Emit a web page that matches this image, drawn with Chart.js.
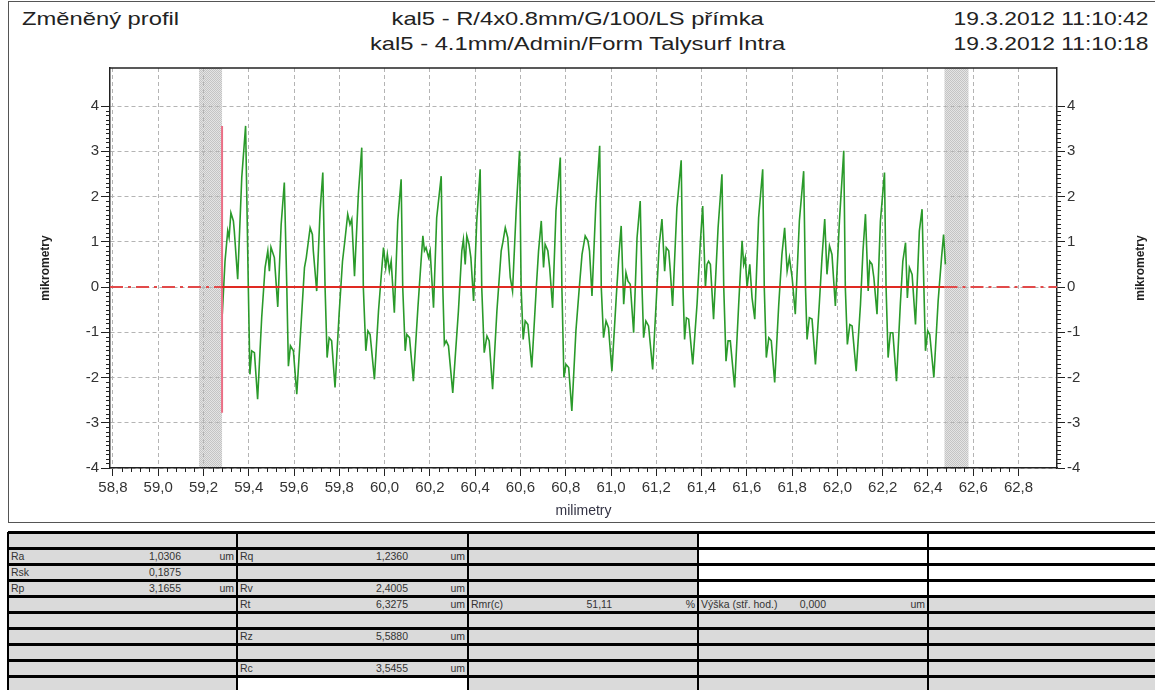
<!DOCTYPE html>
<html lang="cs">
<head>
<meta charset="UTF-8">
<title>Změněný profil</title>
<script src="https://cdn.jsdelivr.net/npm/chart.js@4.4.0/dist/chart.umd.min.js"></script>
<style>
  body { margin: 0; width: 1155px; height: 690px; overflow: hidden; background: #fff;
         font-family: "Liberation Sans", Arial, sans-serif; position: relative; }
  #frame { position: absolute; left: 8px; top: 1px; width: 1160px; height: 522px;
           border: 1px solid #555; box-sizing: border-box; }
  .hd { position: absolute; font-size: 19px; line-height: 22px; color: #222; white-space: nowrap; }
  #chart { position: absolute; left: 0; top: 0; }
  .cell { position: absolute; }
  .ln { position: absolute; background: #000; }
  .tx { position: absolute; font-size: 10.5px; color: #333; white-space: nowrap; }
</style>
</head>
<body>
<div id="frame"></div>
<div class="hd" style="left:22px;top:8px;transform:scaleX(1.25);transform-origin:left center">Změněný profil</div>
<div class="hd" style="left:0;width:1155px;text-align:center;top:8px;transform:scaleX(1.25);transform-origin:577px center">kal5 - R/4x0.8mm/G/100/LS přímka</div>
<div class="hd" style="left:0;width:1155px;text-align:center;top:33px;transform:scaleX(1.25);transform-origin:577px center">kal5 - 4.1mm/Admin/Form Talysurf Intra</div>
<div class="hd" style="right:7px;top:8px;transform:scaleX(1.2);transform-origin:right center">19.3.2012 11:10:42</div>
<div class="hd" style="right:7px;top:33px;transform:scaleX(1.2);transform-origin:right center">19.3.2012 11:10:18</div>
<canvas id="chart" width="1155" height="525"></canvas>
<div id="table"></div>
<script>
// profile (mm, µm)
const profileX = [
  59.283, 59.295, 59.307, 59.313, 59.321, 59.332, 59.336, 59.351, 59.369, 59.386,
  59.398, 59.405, 59.413, 59.425, 59.439, 59.457, 59.472, 59.484, 59.491, 59.498,
  59.513, 59.528, 59.543, 59.557, 59.568, 59.575, 59.584, 59.597, 59.612, 59.631,
  59.646, 59.654, 59.671, 59.681, 59.685, 59.700, 59.715, 59.727, 59.737, 59.746,
  59.755, 59.766, 59.781, 59.799, 59.814, 59.825, 59.837, 59.847, 59.855, 59.867,
  59.884, 59.899, 59.906, 59.917, 59.926, 59.936, 59.955, 59.973, 59.988, 59.995,
  60.005, 60.012, 60.021, 60.029, 60.043, 60.058, 60.073, 60.080, 60.091, 60.098,
  60.110, 60.127, 60.147, 60.161, 60.169, 60.176, 60.183, 60.194, 60.201, 60.216,
  60.230, 60.250, 60.257, 60.264, 60.272, 60.282, 60.301,
  60.326, 60.341, 60.348, 60.356, 60.363, 60.373, 60.381, 60.393, 60.407, 60.422,
  60.429, 60.440, 60.452, 60.462, 60.477, 60.496, 60.515, 60.522, 60.533, 60.544,
  60.555, 60.565, 60.581, 60.596, 60.603, 60.612, 60.621, 60.633, 60.650, 60.670,
  60.680, 60.692, 60.702, 60.709, 60.721, 60.729, 60.742, 60.757, 60.776, 60.783,
  60.792, 60.801, 60.813, 60.827, 60.845, 60.860, 60.872, 60.886, 60.898, 60.905,
  60.916, 60.933, 60.950, 60.957, 60.967, 60.978, 60.989, 61.004, 61.023, 61.034,
  61.045, 61.056, 61.066, 61.075, 61.085, 61.100, 61.115, 61.129, 61.137, 61.144,
  61.154, 61.166, 61.184, 61.203, 61.213, 61.225, 61.237, 61.244, 61.255, 61.262,
  61.272, 61.291, 61.310, 61.318, 61.325, 61.333, 61.343, 61.361, 61.380, 61.394,
  61.405, 61.417, 61.424, 61.431, 61.439, 61.453, 61.473, 61.490, 61.498, 61.508,
  61.517, 61.527, 61.546, 61.564, 61.579, 61.586, 61.593, 61.601, 61.613, 61.623,
  61.635, 61.652, 61.670, 61.677, 61.686, 61.697, 61.708, 61.723, 61.741, 61.755,
  61.767, 61.778, 61.788, 61.800, 61.814, 61.832, 61.851, 61.859, 61.866, 61.876,
  61.888, 61.903, 61.920, 61.932, 61.944, 61.954, 61.965, 61.976, 61.991, 62.009,
  62.028, 62.035, 62.044, 62.055, 62.065, 62.083, 62.102, 62.113, 62.124, 62.136,
  62.143, 62.153, 62.161, 62.175, 62.190, 62.208, 62.215, 62.224, 62.234, 62.245,
  62.261, 62.278, 62.289, 62.301, 62.309, 62.318, 62.330, 62.345, 62.362, 62.374,
  62.382, 62.389, 62.399, 62.408, 62.426, 62.445, 62.460, 62.469, 62.477
];
const profileY = [
  -0.60, 0.57, 1.24, 1.09, 1.64, 1.46, 1.24, 0.17, 2.42, 3.56,
  -0.01, -1.93, -1.41, -1.45, -2.48, -0.68, 0.43, 0.80, 0.35, 0.88,
  0.65, -0.44, 1.38, 2.31, -0.01, -1.75, -1.30, -1.41, -2.37, -0.83,
  0.43, 0.65, 1.31, 1.16, 0.80, -0.09, 1.68, 2.53, -0.01, -1.56,
  -1.12, -1.19, -2.22, -0.60, 0.57, 1.05, 1.61, 1.38, 1.50, 0.24,
  2.05, 3.08, -0.01, -1.41, -0.97, -1.05, -2.04, -0.53, 0.43, 0.87,
  0.43, 0.72, 0.35, 0.57, -0.57, 1.46, 2.38, -0.01, -1.41, -1.05,
  -1.12, -2.08, -0.46, 0.57, 1.13, 0.80, 0.87, 0.65, 0.80, -0.46,
  1.53, 2.45, -0.01, -1.27, -1.19, -1.30, -2.34,
  -0.53, 0.80, 1.05, 0.50, 1.13, 0.94, 0.65, -0.31, 1.46, 2.60,
  -0.01, -1.45, -1.08, -1.19, -2.26, -0.53, 0.80, 0.98, 1.31, 1.09,
  0.21, -0.09, 1.68, 3.01, -0.01, -1.16, -0.75, -0.83, -1.78, -0.01,
  0.80, 1.46, 0.43, 0.94, 0.80, 0.43, -0.46, 1.68, 2.86, -0.01,
  -2.00, -1.71, -1.78, -2.74, -0.97, -0.01, 0.72, 1.13, 1.02, 0.80,
  -0.20, 1.83, 3.12, -0.01, -1.12, -0.75, -0.90, -1.86, -0.24, 0.65,
  1.35, -0.38, 0.32, 0.13, 0.06, -1.01, 1.09, 1.90, -0.01, -1.12,
  -0.75, -0.86, -1.82, -0.01, 0.94, 1.50, 0.35, 0.87, 0.80, 0.35,
  -0.42, 1.75, 2.80, -0.01, -1.16, -0.68, -0.71, -1.71, -0.38, 0.94,
  1.79, -0.01, 0.50, 0.57, 0.50, -0.71, 1.31, 2.49, -0.01, -1.64,
  -1.19, -1.19, -2.22, -0.38, 1.02, 0.50, 0.65, -0.01, 0.50, -0.24,
  -0.71, 1.53, 2.60, -0.01, -1.56, -1.12, -1.19, -2.11, -0.38, 0.72,
  1.31, 0.35, 0.65, 0.21, -0.60, 1.46, 2.56, -0.01, -1.16, -0.68,
  -0.71, -1.71, -0.38, 0.65, 1.50, 0.28, 0.91, 0.72, -0.42, 1.46,
  3.01, -0.01, -1.27, -0.83, -0.86, -1.86, -0.38, 0.80, 1.61, -0.09,
  0.57, 0.50, 0.21, -0.60, 1.46, 2.53, -0.01, -1.56, -1.01, -1.01,
  -2.08, -0.38, 0.57, 0.98, -0.24, 0.43, 0.28, -0.83, 1.24, 1.72,
  -0.01, -1.41, -0.97, -1.05, -2.00, -0.31, 0.65, 1.16, 0.50
];

const xRange = [58.787, 62.97];
const yRange = [-4, 4.84];
const xTicks = [58.8, 59.0, 59.2, 59.4, 59.6, 59.8, 60.0, 60.2, 60.4, 60.6, 60.8,
                61.0, 61.2, 61.4, 61.6, 61.8, 62.0, 62.2, 62.4, 62.6, 62.8];
const yTicks = [-4, -3, -2, -1, 0, 1, 2, 3, 4];
const evalStart = 59.282, evalEnd = 62.473;       // evaluation length
const cutoffBands = [[59.180, 59.282], [62.473, 62.579]];
const rtMarker = [-2.78, 3.56];                   // Rt span drawn at evalStart

// table of parameters
const paramNames  = ['Ra', 'Rsk', 'Rp', 'Rq', 'Rv', 'Rt', 'Rz', 'Rc', 'Rmr(c)', 'Výška (stř. hod.)'];
const paramValues = ['1,0306', '0,1875', '3,1655', '1,2360', '2,4005', '6,3275', '5,5880', '3,5455', '51,11', '0,000'];
const paramUnits  = ['um', '', 'um', 'um', 'um', 'um', 'um', 'um', '%', 'um'];
const paramCells  = [[1,0], [2,0], [3,0], [1,1], [3,1], [4,1], [6,1], [8,1], [4,2], [4,3]];

const fontFam = '"Liberation Sans", Arial, sans-serif';

const profile = profileX.map((x, i) => ({x: x, y: profileY[i]}));

// dotted fill like the cutoff bands
function bandPattern(ctx) {
  const c = document.createElement('canvas');
  c.width = 2; c.height = 2;
  const p = c.getContext('2d');
  p.fillStyle = '#e4e4e4'; p.fillRect(0, 0, 2, 2);
  p.fillStyle = '#c4c4c4'; p.fillRect(0, 0, 1, 1); p.fillRect(1, 1, 1, 1);
  return ctx.createPattern(c, 'repeat');
}

const decor = {
  id: 'decor',
  beforeDraw(chart) {
    const {ctx, chartArea: a, scales: {x}} = chart;
    ctx.save();
    ctx.fillStyle = bandPattern(ctx);
    cutoffBands.forEach(b => {
      const x1 = x.getPixelForValue(b[0]), x2 = x.getPixelForValue(b[1]);
      ctx.fillRect(x1, a.top, x2 - x1, a.bottom - a.top);
    });
    ctx.restore();
  },
  afterDraw(chart) {
    const {ctx, chartArea: a, scales: {x, y}} = chart;
    ctx.save();
    ctx.strokeStyle = '#222';
    ctx.lineWidth = 1.5;
    ctx.beginPath();
    ctx.moveTo(a.left, a.top); ctx.lineTo(a.right, a.top);
    ctx.stroke();
    // minor ticks
    ctx.lineWidth = 1;
    ctx.beginPath();
    for (let k = 0; k <= 100; k++) {
      if (k % 5 === 0) continue;
      const px = Math.round(x.getPixelForValue(58.8 + k * 0.04)) + 0.5;
      ctx.moveTo(px, a.bottom); ctx.lineTo(px, a.bottom + 4);
    }
    for (let k = 0; k <= 80; k++) {
      if (k % 10 === 0) continue;
      const py = Math.round(y.getPixelForValue(-4 + k * 0.1)) + 0.5;
      ctx.moveTo(a.left, py); ctx.lineTo(a.left - 4, py);
      ctx.moveTo(a.right, py); ctx.lineTo(a.right + 4, py);
    }
    ctx.stroke();
    // right axis title, reading upwards like the left one
    ctx.translate(1141, (a.top + a.bottom) / 2);
    ctx.rotate(-Math.PI / 2);
    ctx.font = 'bold 12px ' + fontFam;
    ctx.fillStyle = '#222';
    ctx.textAlign = 'center';
    ctx.textBaseline = 'middle';
    ctx.fillText('mikrometry', 0, 0);
    ctx.restore();
  }
};

const gridLook = {color: '#b4b4b4', lineWidth: 1, tickColor: '#222', tickWidth: 1};
const tickFont = {family: fontFam, size: 15};

new Chart(document.getElementById('chart'), {
  type: 'line',
  data: {
    datasets: [
      {data: [{x: evalStart, y: 0}, {x: evalEnd, y: 0}], borderColor: '#e02a22', borderWidth: 2},
      {data: [{x: xRange[0], y: 0}, {x: evalStart, y: 0}], borderColor: '#e24a4a', borderWidth: 2, borderDash: [13, 5, 3, 5]},
      {data: [{x: evalEnd, y: 0}, {x: xRange[1], y: 0}], borderColor: '#e24a4a', borderWidth: 2, borderDash: [13, 5, 3, 5]},
      {data: [{x: evalStart, y: rtMarker[0]}, {x: evalStart, y: rtMarker[1]}], borderColor: '#ea6f86', borderWidth: 2},
      {data: profile, borderColor: '#2a9a2a', borderWidth: 1.6}
    ]
  },
  options: {
    responsive: false,
    animation: false,
    events: [],
    elements: {point: {radius: 0}, line: {tension: 0, fill: false}},
    layout: {padding: {left: 30, right: 8, top: 68, bottom: 2}},
    plugins: {legend: {display: false}, tooltip: {enabled: false}},
    scales: {
      x: {
        type: 'linear', min: xRange[0], max: xRange[1],
        afterBuildTicks: s => { s.ticks = xTicks.map(v => ({value: v})); },
        afterFit: s => { s.height = 55; },
        grid: Object.assign({tickLength: 8}, gridLook),
        border: {color: '#222', width: 1.5, dash: [4, 3]},
        ticks: {font: tickFont, color: '#333', padding: 3, maxRotation: 0, autoSkip: false,
                callback: v => v.toFixed(1).replace('.', ',')},
        title: {display: true, text: 'milimetry', color: '#334', font: {family: fontFam, size: 14},
                padding: {top: 0, bottom: 3}}
      },
      y: {
        type: 'linear', position: 'left', min: yRange[0], max: yRange[1],
        afterBuildTicks: s => { s.ticks = yTicks.map(v => ({value: v})); },
        afterFit: s => { s.width = 80; },
        grid: Object.assign({tickLength: 9}, gridLook),
        border: {color: '#222', width: 1.5, dash: [4, 3]},
        ticks: {font: tickFont, color: '#333', padding: 2, callback: v => String(v)},
        title: {display: true, text: 'mikrometry', color: '#222', font: {family: fontFam, size: 12, weight: 'bold'},
                padding: {top: 8, bottom: 0}}
      },
      y2: {
        type: 'linear', position: 'right', min: yRange[0], max: yRange[1],
        afterBuildTicks: s => { s.ticks = yTicks.map(v => ({value: v})); },
        afterFit: s => { s.width = 90; },
        grid: Object.assign({tickLength: 8, drawOnChartArea: false}, gridLook),
        border: {color: '#222', width: 1.5},
        ticks: {font: tickFont, color: '#333', padding: 2, callback: v => String(v)}
      }
    }
  },
  plugins: [decor]
});

// parameter table under the graph
const colEdges = [8, 237, 468, 698, 928, 1160];
const rowEdges = [532, 548, 564, 580, 596, 612, 628, 644, 660, 676, 692];
const whiteCells = ['0,3', '1,3', '2,3', '3,3', '0,4', '1,4', '2,4', '3,4', '9,1'];
const valueRight = [173, 171, 144, 128];
const table = document.getElementById('table');

function box(cls, l, t, w, h, bg) {
  const d = document.createElement('div');
  d.className = cls;
  d.style.left = l + 'px'; d.style.top = t + 'px';
  d.style.width = w + 'px'; d.style.height = h + 'px';
  if (bg) d.style.background = bg;
  table.appendChild(d);
  return d;
}
for (let r = 0; r < rowEdges.length - 1; r++) {
  for (let c = 0; c < colEdges.length - 1; c++) {
    const white = whiteCells.indexOf(r + ',' + c) >= 0;
    box('cell', colEdges[c], rowEdges[r], colEdges[c + 1] - colEdges[c], rowEdges[r + 1] - rowEdges[r],
        white ? '#ffffff' : '#dadada');
  }
}
rowEdges.slice(0, -1).forEach(t => box('ln', colEdges[0], t - 1, 1160 - colEdges[0], 3));
colEdges.slice(0, -1).forEach(l => box('ln', l - 1, rowEdges[0], 2, 692 - rowEdges[0]));

function text(str, l, t, align) {
  const d = document.createElement('div');
  d.className = 'tx';
  d.textContent = str;
  d.style.top = t + 'px';
  if (align === 'right') d.style.right = (1155 - l) + 'px'; else d.style.left = l + 'px';
  table.appendChild(d);
}
paramNames.forEach((name, i) => {
  const [r, c] = paramCells[i];
  const t = rowEdges[r] + 2;
  text(name, colEdges[c] + 3, t);
  text(paramValues[i], colEdges[c] + valueRight[c], t, 'right');
  if (paramUnits[i]) text(paramUnits[i], colEdges[c + 1] - 3, t, 'right');
});
</script>
</body>
</html>
